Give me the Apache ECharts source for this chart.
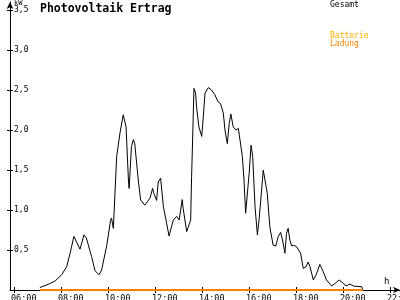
<!DOCTYPE html>
<html>
<head>
<meta charset="utf-8">
<script src="https://cdn.jsdelivr.net/npm/echarts@6/dist/echarts.min.js"></script>
<style>html,body{margin:0;padding:0;background:#fff}#c{width:400px;height:300px}</style>
</head>
<body>
<div id="c"></div>
<script>
// Gesamt (kW) over time of day (hours)
var hours = [7.1, 7.45, 7.74, 8.03, 8.24, 8.38, 8.55, 8.62, 8.81, 8.98,
  9.08, 9.3, 9.45, 9.62, 9.73, 9.95, 10.11, 10.15, 10.23, 10.37,
  10.51, 10.65, 10.77, 10.87, 10.9, 11.0, 11.08, 11.14, 11.29, 11.39,
  11.57, 11.79, 11.9, 11.95, 12.07, 12.14, 12.24, 12.36, 12.5, 12.6,
  12.64, 12.78, 12.92, 13.03, 13.16, 13.2, 13.35, 13.42, 13.52, 13.56,
  13.6, 13.66, 13.73, 13.77, 13.87, 13.99, 14.03, 14.13, 14.27, 14.41,
  14.55, 14.69, 14.79, 14.91, 14.98, 15.08, 15.16, 15.23, 15.33, 15.45,
  15.55, 15.62, 15.72, 15.79, 15.86, 15.94, 16.01, 16.09, 16.16, 16.26,
  16.36, 16.43, 16.54, 16.61, 16.69, 16.78, 16.89, 17.03, 17.14, 17.25,
  17.35, 17.43, 17.53, 17.6, 17.67, 17.74, 17.82, 17.91, 18.03, 18.1,
  18.2, 18.31, 18.43, 18.52, 18.6, 18.74, 18.86, 19.02, 19.16, 19.3,
  19.52, 19.66, 19.84, 20.0, 20.13, 20.3, 20.44, 20.8, 20.85];
var gesamt = [0.03, 0.07, 0.11, 0.19, 0.29, 0.45, 0.67, 0.66, 0.51, 0.69,
  0.65, 0.42, 0.24, 0.19, 0.25, 0.56, 0.87, 0.90, 0.77, 1.67,
  1.96, 2.19, 2.04, 1.375, 1.27, 1.79, 1.88, 1.83, 1.375, 1.125,
  1.06, 1.15, 1.27, 1.21, 1.12, 1.35, 1.40, 1.04, 0.83, 0.675,
  0.675, 0.875, 0.92, 0.875, 1.13, 1.02, 0.73, 0.71, 0.875, 1.42,
  1.85, 2.52, 2.46, 2.29, 2.04, 1.92, 2.06, 2.46, 2.53, 2.5,
  2.44, 2.35, 2.33, 2.21, 2.0, 1.83, 2.08, 2.2, 2.04, 2.0,
  2.02, 1.875, 1.67, 1.375, 0.96, 0.96, 1.46, 1.81, 1.67, 1.04,
  0.69, 0.875, 1.25, 1.5, 1.48, 1.21, 0.79, 0.56, 0.55, 0.67,
  0.72, 0.625, 0.46, 0.71, 0.77, 0.625, 0.55, 0.56, 0.54, 0.56,
  0.46, 0.27, 0.29, 0.35, 0.29, 0.125, 0.19, 0.32, 0.23, 0.125,
  0.05, 0.08, 0.125, 0.09, 0.05, 0.075, 0.05, 0.04, 0.0];
// Batterie Ladung
var ladungHours = [7.1, 20.85];
var ladung = [0, 0];
// ticks
var xTicks = [6, 8, 10, 12, 14, 16, 18, 20, 22];
var yTicks = [0.5, 1.0, 1.5, 2.0, 2.5, 3.0, 3.5];

var FONT = 'DejaVu Sans Mono';
function pairs(xs, ys) { return xs.map(function (x, i) { return [x, ys[i]]; }); }
function hhmm(v) { var h = Math.round(v); return (h < 10 ? '0' : '') + h + ':00'; }

var chart = echarts.init(document.getElementById('c'), null, { renderer: 'canvas' });
var xBase = {
  type: 'value', min: 5.83, max: 22.43, gridIndex: 0,
  splitLine: { show: false }
};
var yBase = { type: 'value', min: 0, max: 3.6, splitLine: { show: false } };
chart.setOption({
  animation: false,
  backgroundColor: '#ffffff',
  title: {
    text: 'Photovoltaik Ertrag', left: 40, top: 3, padding: 0,
    textStyle: { fontFamily: FONT, fontWeight: 'bold', fontSize: 11.5, color: '#000' }
  },
  grid: { left: 10, right: 0, top: 2, bottom: 10, containLabel: false, outerBoundsMode: 'none' },
  xAxis: [
    Object.assign({}, xBase, {
      position: 'bottom',
      axisLine: { show: true, symbol: ['none', 'arrow'], symbolSize: [5, 7], lineStyle: { color: '#000', width: 1 } },
      axisTick: { show: true, length: 3, customValues: xTicks, lineStyle: { color: '#000' } },
      axisLabel: { show: true, customValues: xTicks, formatter: hhmm, margin: 4, align: 'left', padding: [0, 0, 0, -3], fontFamily: FONT, fontSize: 8.5, color: '#000' }
    }),
    Object.assign({}, xBase, {
      position: 'bottom', offset: 0,
      axisLine: { show: false },
      axisTick: { show: true, inside: true, length: 3, customValues: xTicks, lineStyle: { color: '#000' } },
      axisLabel: { show: false }
    })
  ],
  yAxis: [
    Object.assign({}, yBase, {
      position: 'left',
      axisLine: { show: true, symbol: ['none', 'arrow'], symbolSize: [5, 7], lineStyle: { color: '#000', width: 1 } },
      axisTick: { show: true, length: 3, customValues: yTicks, lineStyle: { color: '#000' } },
      axisLabel: {
        show: true, inside: true, customValues: yTicks, margin: 4,
        formatter: function (v) { return v.toFixed(1).replace('.', ','); },
        fontFamily: FONT, fontSize: 8, color: '#000'
      }
    }),
    Object.assign({}, yBase, {
      position: 'left', offset: 0,
      axisLine: { show: false },
      axisTick: { show: true, inside: true, length: 3, customValues: yTicks, lineStyle: { color: '#000' } },
      axisLabel: { show: false }
    })
  ],
  graphic: [
    { type: 'text', left: 14, top: 0, style: { text: 'kW', fontFamily: FONT, fontSize: 7, fill: '#000' } },
    { type: 'text', left: 384, top: 277, style: { text: 'h', fontFamily: FONT, fontSize: 9, fill: '#000' } },
    { type: 'text', left: 330, top: 1, style: { text: 'Gesamt', fontFamily: FONT, fontSize: 8, fill: '#000' } },
    { type: 'text', left: 330, top: 32, style: { text: 'Batterie', fontFamily: FONT, fontSize: 8, fill: '#ffb000' } },
    { type: 'text', left: 330, top: 40, style: { text: 'Ladung', fontFamily: FONT, fontSize: 8, fill: '#ff8000' } }
  ],
  series: [
    {
      name: 'Ladung', type: 'line', xAxisIndex: 0, yAxisIndex: 0,
      data: pairs(ladungHours, ladung), showSymbol: false, z: 5,
      lineStyle: { color: '#ff8000', width: 2 }
    },
    {
      name: 'Gesamt', type: 'line', xAxisIndex: 0, yAxisIndex: 0,
      data: pairs(hours, gesamt), showSymbol: false, z: 4,
      lineStyle: { color: '#000', width: 1 }
    }
  ]
});
</script>
</body>
</html>
